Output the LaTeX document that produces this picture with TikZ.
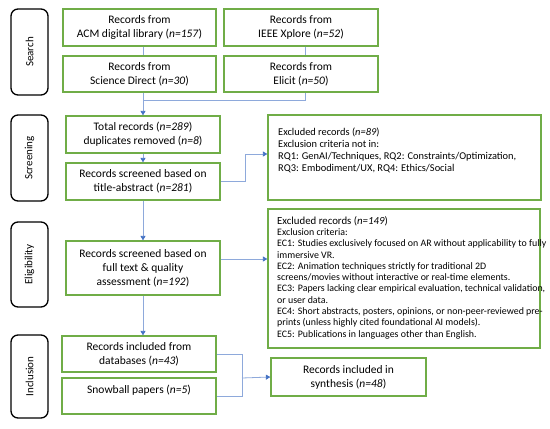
\documentclass[tikz,border=0pt]{standalone}
\usepackage{fontspec}
\setmainfont{Carlito}
\usetikzlibrary{arrows.meta,calc}
\definecolor{boxgreen}{HTML}{70AD47}
\definecolor{linkblue}{HTML}{8EA9DB}
\definecolor{tipblue}{HTML}{4472C4}
\begin{document}
\begin{tikzpicture}[x=1pt,y=-1pt,
  box/.style={draw=boxgreen,line width=1.3pt,minimum width=#1,inner sep=2pt,align=center,font=\fontsize{11.5}{14}\selectfont},
  box/.default={154pt},
  phase/.style={draw=black,line width=1.3pt,rounded corners=7pt,minimum width=#1,minimum height=37pt,rotate=90,font=\fontsize{11}{13}\selectfont},
  link/.style={draw=linkblue,line width=0.8pt},
  arr/.style={link,-{Triangle[width=5pt,length=4.5pt,color=tipblue]}},
  exbox/.style={draw=boxgreen,line width=1.3pt},
  extext/.style={anchor=north west,align=left,inner sep=0pt}
]
\useasboundingbox (0,0) rectangle (550,429);
% phase labels
\node[phase=86pt] (psearch) at (29.5,52) {Search};
\node[phase=86pt] (pscreen) at (29.5,158) {Screening};
\node[phase=85pt] (pelig) at (29.5,264.5) {Eligibility};
\node[phase=83pt] (pincl) at (29.5,376.5) {Inclusion};
% search boxes
\node[box=153pt,minimum height=37pt] (acm) at (139.5,27.5) {Records from\\ACM digital library (\textit{n=157})};
\node[box=154pt,minimum height=37pt] (ieee) at (301,27.5) {Records from\\IEEE Xplore (\textit{n=52})};
\node[box=153pt,minimum height=36pt] (sd) at (139.5,74) {Records from\\Science Direct (\textit{n=30})};
\node[box=154pt,minimum height=36pt] (elicit) at (301,74) {Records from\\Elicit (\textit{n=50})};
% screening
\node[box=154pt,minimum height=37pt] (total) at (143,134.5) {Total records (\textit{n=289})\\duplicates removed (\textit{n=8})};
\node[box=154pt,minimum height=37pt] (title) at (143,181.5) {Records screened based on\\title-abstract (\textit{n=281})};
% eligibility
\node[box=154pt,minimum height=54pt] (full) at (143,268) {Records screened based on\\full text \& quality\\assessment (\textit{n=192})};
% inclusion
\node[box=154pt,minimum height=36pt] (db) at (139,354) {Records included from\\databases (\textit{n=43})};
\node[box=154pt,minimum height=36pt,text depth=13pt] (snow) at (139,396) {Snowball papers (\textit{n=5})};
\node[box=155pt,minimum height=38pt] (synth) at (348.5,377) {Records included in\\synthesis (\textit{n=48})};
% exclusion boxes
\node[exbox,minimum width=273pt,minimum height=85pt] (ex1) at (404.5,157.5) {};
\node[extext,font=\fontsize{10.4}{12}\selectfont] (ex1t) at (278,128) {Excluded records (\textit{n=89})\\Exclusion criteria not in:\\RQ1: GenAI/Techniques, RQ2: Constraints/Optimization,\\RQ3: Embodiment/UX, RQ4: Ethics/Social};
\node[exbox,minimum width=272pt,minimum height=139pt] (ex2) at (404,278.5) {};
\node[extext,font=\fontsize{9.9}{11.3}\selectfont] (ex2t) at (277,216) {{\fontsize{10.8}{11.3}\selectfont Excluded records (\textit{n=149})}\\Exclusion criteria:\\EC1: Studies exclusively focused on AR without applicability to fully\\immersive VR.\\EC2: Animation techniques strictly for traditional 2D\\screens/movies without interactive or real-time elements.\\EC3: Papers lacking clear empirical evaluation, technical validation,\\or user data.\\EC4: Short abstracts, posters, opinions, or non-peer-reviewed pre-\\prints (unless highly cited foundational AI models).\\EC5: Publications in languages other than English.};
% connectors
\coordinate (j1) at (143,100);
\coordinate (j2) at (305,100);
\coordinate (j3) at (245,154);
\coordinate (j4) at (242,378);
\draw[link] (acm.south -| j1) -- (sd.north -| j1);
\draw[link] (ieee.south -| j2) -- (elicit.north -| j2);
\draw[link] (sd.south -| j1) -- (j1) -- (j2) -- (elicit.south -| j2);
\draw[arr] (j1) -- (total.north);
\draw[arr] (total.south) -- (title.north);
\draw[arr] (title.east) -| (j3) -- (ex1.west |- j3);
\draw[arr] (title.south) -- (full.north);
\draw[arr] (full.east |- 0,259) -- (ex2.west |- 0,259);
\draw[arr] (full.south) -- (db.north -| full.south);
\draw[link] (db.east) -| (j4 |- snow.east) -- (snow.east);
\draw[arr] (j4) -- (synth.west);
\end{tikzpicture}
\end{document}
